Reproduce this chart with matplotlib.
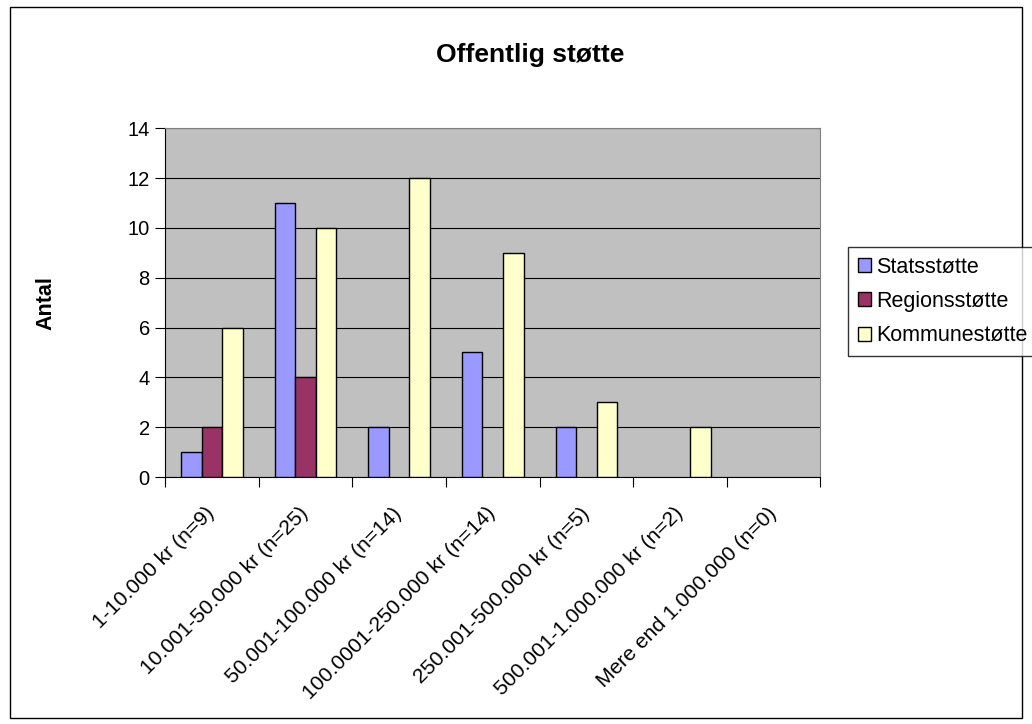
import numpy as np
import matplotlib
matplotlib.use('Agg')
import matplotlib.pyplot as plt
from matplotlib.patches import Rectangle

plt.rcParams['font.family'] = ['Liberation Sans', 'DejaVu Sans']

categories = ['1-10.000 kr (n=9)', '10.001-50.000 kr (n=25)', '50.001-100.000 kr (n=14)',
              '100.0001-250.000 kr (n=14)', '250.001-500.000 kr (n=5)',
              '500.001-1.000.000 kr (n=2)', 'Mere end 1.000.000 (n=0)']
stat = [1, 11, 2, 5, 2, 0, 0]
region = [2, 4, 0, 0, 0, 0, 0]
kommune = [6, 10, 12, 9, 3, 2, 0]
series_names = ['Statsstøtte', 'Regionsstøtte', 'Kommunestøtte']
colors = ['#9999FF', '#993366', '#FFFFCC']

fig = plt.figure(figsize=(10.32, 7.24), dpi=100)
fig.patches.append(Rectangle((10/1032, 6/724), 1012/1032, 711/724, transform=fig.transFigure,
                             fill=False, ec='black', lw=1))
ax = fig.add_axes([0.160, 0.341, 0.635, 0.482])
ax.set_facecolor('#C0C0C0')

x = np.arange(len(categories))
w = 0.22
for i, (vals, name, c) in enumerate(zip([stat, region, kommune], series_names, colors)):
    v = np.array(vals, dtype=float)
    mask = v > 0
    ax.bar(x[mask] + (i - 1) * w, v[mask], width=w, color=c, edgecolor='black', lw=1,
           label=name, zorder=3)

ax.set_xlim(-0.5, len(categories) - 0.5)
ax.set_ylim(0, 14)
ax.set_yticks(range(0, 15, 2))
ax.yaxis.grid(True, color='black', lw=0.8, zorder=1)
ax.set_axisbelow(True)
ax.set_xticks(np.arange(len(categories) + 1) - 0.5, minor=False)
ax.set_xticklabels([])
ax.set_xticks(x, minor=True)
ax.set_xticklabels(categories, minor=True, rotation=45, ha='right', va='center',
                   rotation_mode='anchor', fontsize=15.2)
ax.tick_params(axis='x', which='minor', length=0, pad=24)
ax.tick_params(axis='x', which='major', length=7, direction='out')
ax.tick_params(axis='y', length=7, labelsize=14.5, pad=4)
for s in ['top', 'right']:
    ax.spines[s].set_color('#808080')
for s in ['left', 'bottom']:
    ax.spines[s].set_color('black')

fig.text(46/1032, 1 - 303/724, 'Antal', rotation=90, ha='center', va='center',
         fontsize=15.5, fontweight='bold')
fig.text(0.514, 0.924, 'Offentlig støtte', ha='center', va='center', fontsize=19, fontweight='bold')

leg = fig.legend(loc='upper left', bbox_to_anchor=(848/1032, 1 - 247/724), frameon=True,
                 fancybox=False, edgecolor='black', fontsize=15.5, handlelength=0.62,
                 handleheight=0.62, handletextpad=0.25, borderpad=0.45, labelspacing=0.62,
                 borderaxespad=0)
leg.get_frame().set_linewidth(1)

fig.savefig('out.png', dpi=100)
